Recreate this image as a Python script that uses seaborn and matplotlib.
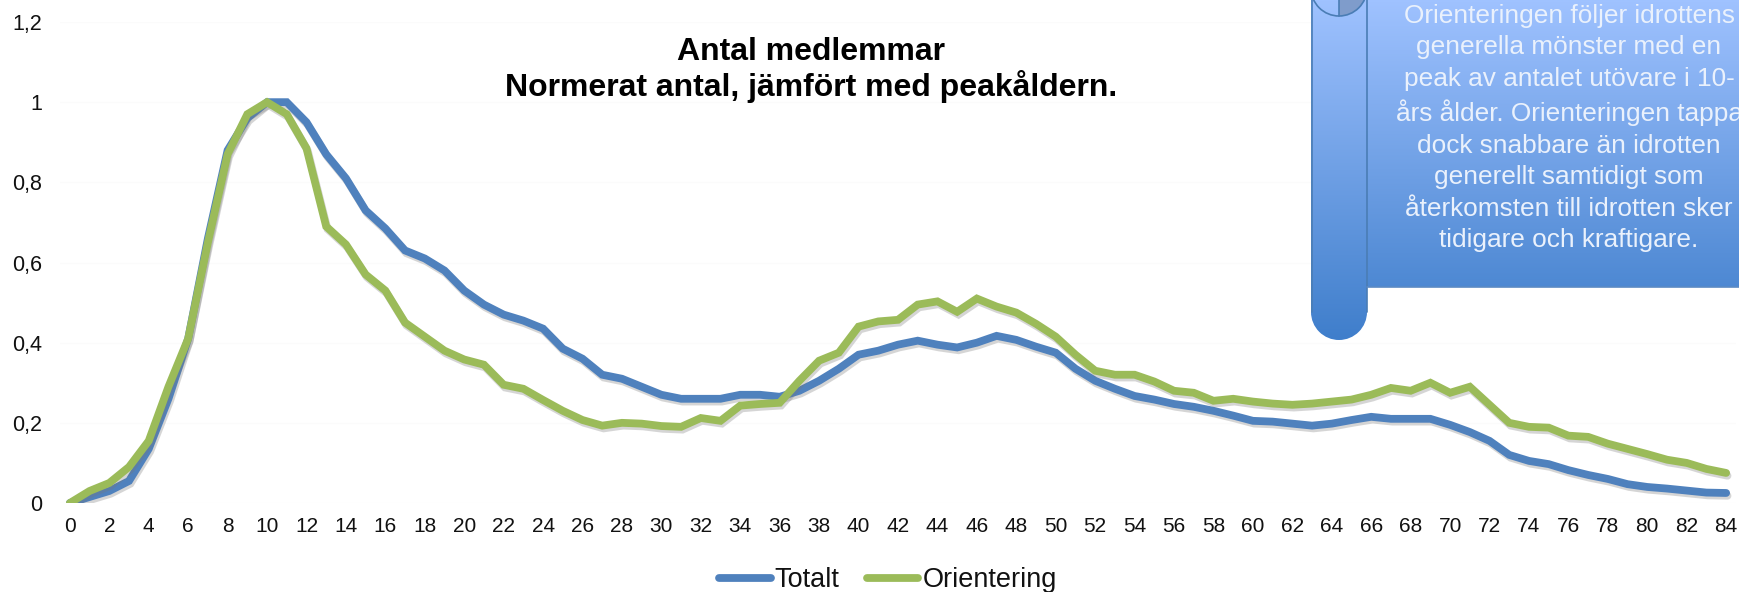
import numpy as np
import pandas as pd
import seaborn as sns
import matplotlib.pyplot as plt
import matplotlib.patheffects as pe
from matplotlib.lines import Line2D
from matplotlib.patches import Rectangle, Circle, Wedge

# ages and the two normalised series
age = list(range(85))
totalt = [0, 0.015, 0.03, 0.055, 0.135, 0.26, 0.41, 0.66, 0.88, 0.96, 1.0, 1.0, 0.95, 0.87, 0.81, 0.73, 0.685,
          0.63, 0.61, 0.58, 0.53, 0.495, 0.47, 0.455, 0.435, 0.385, 0.36, 0.32, 0.31, 0.29, 0.27, 0.26, 0.26,
          0.26, 0.27, 0.27, 0.265, 0.28, 0.305, 0.335, 0.37, 0.38, 0.395, 0.405, 0.395, 0.388, 0.40, 0.417,
          0.407, 0.39, 0.375, 0.335, 0.305, 0.285, 0.267, 0.258, 0.247, 0.24, 0.23, 0.218, 0.205, 0.203,
          0.198, 0.193, 0.198, 0.207, 0.215, 0.21, 0.21, 0.21, 0.195, 0.177, 0.155, 0.12, 0.105, 0.097,
          0.082, 0.07, 0.06, 0.047, 0.04, 0.036, 0.031, 0.026, 0.025]
orientering = [0, 0.03, 0.05, 0.09, 0.155, 0.29, 0.41, 0.65, 0.87, 0.97, 1.0, 0.97, 0.885, 0.69, 0.645, 0.57, 0.53,
               0.45, 0.415, 0.38, 0.358, 0.345, 0.295, 0.285, 0.257, 0.23, 0.207, 0.193, 0.2, 0.198, 0.192, 0.19,
               0.212, 0.205, 0.243, 0.247, 0.25, 0.305, 0.355, 0.375, 0.44, 0.453, 0.457, 0.495, 0.503, 0.477,
               0.51, 0.49, 0.475, 0.447, 0.415, 0.37, 0.33, 0.32, 0.32, 0.303, 0.28, 0.275, 0.255, 0.26, 0.253,
               0.248, 0.245, 0.248, 0.253, 0.258, 0.27, 0.287, 0.28, 0.3, 0.275, 0.29, 0.245, 0.2, 0.19, 0.188,
               0.168, 0.165, 0.148, 0.135, 0.122, 0.108, 0.1, 0.085, 0.075]
yticks = [0, 0.2, 0.4, 0.6, 0.8, 1.0, 1.2]
ylabels = ['0', '0,2', '0,4', '0,6', '0,8', '1', '1,2']
title = 'Antal medlemmar\nNormerat antal, jämfört med peakåldern.'
note = ('Orienteringen följer idrottens\ngenerella mönster med en\npeak av antalet utövare i 10-\n'
        'års ålder. Orienteringen tappa\ndock snabbare än idrotten\ngenerellt samtidigt som\n'
        'återkomsten till idrotten sker\ntidigare och kraftigare.')

sns.set_theme(style='white')
plt.rcParams['font.family'] = ['Liberation Sans', 'DejaVu Sans']

W, H = 1739, 592
df = pd.DataFrame({'age': age * 2, 'value': totalt + orientering,
                   'serie': ['Totalt'] * len(age) + ['Orientering'] * len(age)})

fig = plt.figure(figsize=(17.39, 5.92), dpi=100)
ax = fig.add_axes([60 / W, 1 - 503 / H, 1676 / W, 481 / H])
shadow = [pe.SimpleLineShadow(offset=(1, -2), shadow_color='#777777', alpha=0.3), pe.Normal()]
sns.lineplot(data=df, x='age', y='value', hue='serie', palette=['#4f81bd', '#9bbb59'], linewidth=5.6,
             ax=ax, legend=False, path_effects=shadow, solid_joinstyle='miter', solid_capstyle='round')
ax.set_xlim(-0.5, 84.5)
ax.set_ylim(0, 1.2)
ax.set_xticks(age[::2])
ax.set_yticks(yticks)
ax.set_yticklabels(ylabels)
ax.tick_params(axis='x', labelsize=15, length=0, pad=10, colors='#111111')
ax.tick_params(axis='y', labelsize=15.5, length=0, pad=13, colors='#111111')
ax.grid(axis='y', color='#fbfbfb', linewidth=1)
ax.set_xlabel('')
ax.set_ylabel('')
sns.despine(ax=ax, left=True, bottom=True)

handles = [Line2D([], [], color='#4f81bd', lw=5.6, solid_capstyle='round'),
           Line2D([], [], color='#9bbb59', lw=5.6, solid_capstyle='round')]
fig.legend(handles, ['Totalt', 'Orientering'], loc='center', bbox_to_anchor=(888 / W, 1 - 580 / H), ncol=2,
           frameon=False, fontsize=19.5, handlelength=1.9, handletextpad=0.15, columnspacing=1.0,
           labelcolor='#111111', borderpad=0)

fig.text(811 / W, 1 - 70 / H, title, ha='center', va='center', fontsize=23, fontweight='bold',
         color='black', linespacing=1.08)

# scroll shape over the top right corner, pixel coordinates
deco = fig.add_axes([0, 0, 1, 1], facecolor='none')
grad = np.linspace(0, 1, 256).reshape(-1, 1)
cmap = sns.blend_palette(['#9fc2ff', '#3f7ecb'], as_cmap=True)
roll_top = deco.imshow(grad, extent=(1311, 1367, 340, 0), cmap=cmap, aspect='auto', zorder=2)
roll_end = deco.imshow(grad, extent=(1311, 1367, 340, 0), cmap=cmap, aspect='auto', zorder=2)
banner = deco.imshow(grad, extent=(1367, W, 287, 0), cmap=cmap, vmax=1.18, aspect='auto', zorder=2)
deco.set_xlim(0, W)
deco.set_ylim(H, 0)
deco.axis('off')
roll_top.set_clip_path(Rectangle((1311, 0), 56, 312, transform=deco.transData))
roll_end.set_clip_path(Circle((1339, 312), 28, transform=deco.transData))
deco.plot([1311.5, 1311.5], [0, 312], color='#4a7db5', lw=1.2, zorder=3)
deco.plot([1367, 1367], [0, 312], color='#4a7db5', lw=1.2, zorder=3)
deco.plot([1367, W], [287, 287], color='#5b8ac4', lw=1.2, zorder=3)
deco.add_patch(Wedge((1339, -12), 28, 0, 90, facecolor='#7f9ccb', edgecolor='none', zorder=3))
deco.add_patch(Wedge((1339, -12), 28, 0, 180, facecolor='none', edgecolor='#4a7db5', lw=1.2, zorder=4))
deco.plot([1339, 1339], [0, 16], color='#4a7db5', lw=1.2, zorder=4)
deco.text(1569, 128, note, ha='center', va='center', fontsize=18.9, color='#eaf1fc', linespacing=1.4, zorder=5)

fig.savefig('out.png', dpi=100)
